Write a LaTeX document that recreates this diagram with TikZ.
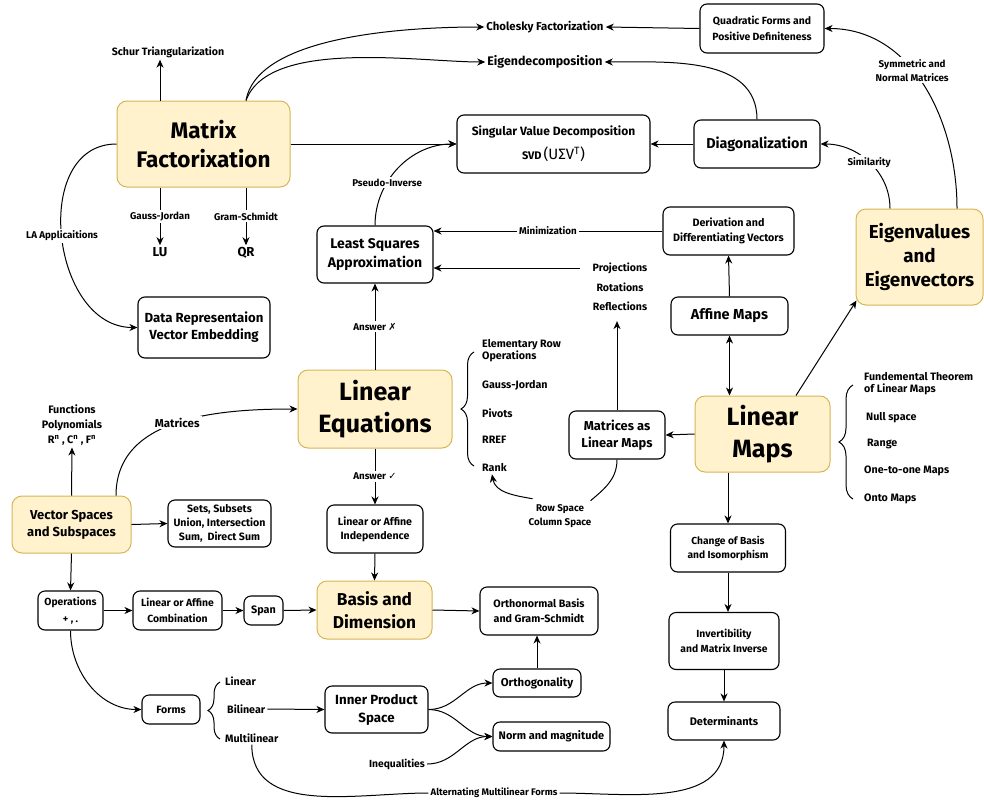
\documentclass[tikz,border=0pt]{standalone}
\usepackage{fontspec}
\setmainfont{Fira Sans}
\newfontfamily\symbfont{DejaVu Sans}
\usepackage{tikz}
\usetikzlibrary{arrows.meta, positioning, calc, decorations.pathreplacing}
\definecolor{KeyFill}{HTML}{FFF2CC}
\definecolor{KeyBorder}{HTML}{D6B656}
\tikzset{
  % Key concept (yellow)
  keybox/.style={
    rectangle, draw=KeyBorder, fill=KeyFill, line width=1pt,
    rounded corners=10pt, align=center, inner sep=2pt
  },
  % Plain topic box
  topic/.style={
    rectangle, draw=black, fill=white, line width=1.1pt,
    rounded corners=7pt, align=center, inner sep=2pt
  },
  % Free text
  plain/.style={align=center, inner sep=2pt},
  % Label sitting on a connector
  lbl/.style={
    fill=white, inner sep=2pt, align=center,
    font=\fontsize{9.8}{14}\selectfont\bfseries
  },
  % Connectors
  arrow/.style={-{Stealth[length=8pt,width=7pt,inset=2.5pt]}, line width=1pt},
  link/.style={line width=1pt},
  curly/.style={line width=1pt, decorate, decoration={brace, amplitude=#1}}
}
\begin{document}
\begin{tikzpicture}[x=1pt, y=-1pt]
\useasboundingbox (0,0) rectangle (984,800);

% Key concepts
\node[keybox, minimum width=173pt, minimum height=86pt,
      font=\fontsize{22.5}{29}\selectfont\bfseries] (mf) at (203.5,144)
  {Matrix\\Factorixation};
\node[keybox, minimum width=154pt, minimum height=78pt,
      font=\fontsize{25}{32}\selectfont\bfseries] (le) at (375,409)
  {Linear\\Equations};
\node[keybox, minimum width=135pt, minimum height=76pt,
      font=\fontsize{25}{32}\selectfont\bfseries] (lm) at (762.5,434)
  {Linear\\Maps};
\node[keybox, minimum width=127pt, minimum height=96pt,
      font=\fontsize{18.8}{24}\selectfont\bfseries] (eig) at (919.5,257)
  {Eigenvalues\\and\\Eigenvectors};
\node[keybox, minimum width=115pt, minimum height=58pt,
      font=\fontsize{17.2}{23}\selectfont\bfseries] (bd) at (374.5,610)
  {Basis and\\Dimension};
\node[keybox, minimum width=119pt, minimum height=57pt,
      font=\fontsize{13}{17}\selectfont\bfseries] (vs) at (71.5,524.5)
  {Vector Spaces\\and Subspaces};

% Topic boxes
\node[topic, minimum width=193pt, minimum height=58pt,
      font=\fontsize{12}{24}\selectfont\bfseries] (svd) at (553.5,144)
  {Singular Value Decomposition\\{\fontsize{11}{24}\selectfont SVD}\,{\mdseries\fontsize{15}{24}\selectfont(UΣV\textsuperscript{T})}};
\node[topic, minimum width=124pt, minimum height=49pt,
      font=\fontsize{10.4}{16}\selectfont\bfseries] (quad) at (762,28.5)
  {Quadratic Forms and\\Positive Definiteness};
\node[topic, minimum width=126pt, minimum height=48pt,
      font=\fontsize{14.3}{16}\selectfont\bfseries] (diag) at (757,144)
  {Diagonalization};
\node[topic, minimum width=131pt, minimum height=48pt,
      font=\fontsize{10.7}{15}\selectfont\bfseries] (deriv) at (728.5,231)
  {Derivation and\\Differentiating Vectors};
\node[topic, minimum width=116pt, minimum height=57pt,
      font=\fontsize{14}{19}\selectfont\bfseries] (ls) at (375,254.5)
  {Least Squares\\Approximation};
\node[topic, minimum width=117pt, minimum height=38pt,
      font=\fontsize{14.5}{16}\selectfont\bfseries] (aff) at (729.5,316)
  {Affine Maps};
\node[topic, minimum width=96pt, minimum height=48pt,
      font=\fontsize{12.9}{17}\selectfont\bfseries] (mlm) at (617,435)
  {Matrices as\\Linear Maps};
\node[topic, minimum width=96pt, minimum height=48pt,
      font=\fontsize{10.6}{14}\selectfont\bfseries] (lai) at (375,529)
  {Linear or Affine\\Independence};
\node[topic, minimum width=118pt, minimum height=48pt,
      font=\fontsize{10.7}{15}\selectfont\bfseries] (ob) at (539,611)
  {Orthonormal Basis\\and Gram-Schmidt};
\node[topic, minimum width=88pt, minimum height=28pt,
      font=\fontsize{11.4}{14}\selectfont\bfseries] (orth) at (537,683)
  {Orthogonality};
\node[topic, minimum width=117pt, minimum height=29pt,
      font=\fontsize{11}{14}\selectfont\bfseries] (norm) at (551.5,736.5)
  {Norm and magnitude};
\node[topic, minimum width=103pt, minimum height=47pt,
      font=\fontsize{13.3}{18}\selectfont\bfseries] (ips) at (376.5,709.5)
  {Inner Product\\Space};
\node[topic, minimum width=112pt, minimum height=38pt,
      font=\fontsize{11}{14}\selectfont\bfseries] (det) at (724,721)
  {Determinants};
\node[topic, minimum width=110pt, minimum height=57pt,
      font=\fontsize{10.3}{15}\selectfont\bfseries] (inv) at (724,641)
  {Invertibility\\and Matrix Inverse};
\node[topic, minimum width=115pt, minimum height=48pt,
      font=\fontsize{10.2}{14}\selectfont\bfseries] (cob) at (728,548)
  {Change of Basis\\and Isomorphism};
\node[topic, minimum width=132pt, minimum height=61pt,
      font=\fontsize{13.2}{17}\selectfont\bfseries] (datarep) at (204,327.5)
  {Data Representaion\\Vector Embedding};
\node[topic, minimum width=103pt, minimum height=47pt,
      font=\fontsize{10.6}{14}\selectfont\bfseries] (sets) at (219.5,523.5)
  {Sets, Subsets\\Union, Intersection\\Sum,~ Direct Sum};
\node[topic, minimum width=65pt, minimum height=39pt,
      font=\fontsize{10.3}{17}\selectfont\bfseries] (ops) at (70.5,610.5)
  {Operations\\+ , .};
\node[topic, minimum width=89pt, minimum height=39pt,
      font=\fontsize{10.4}{16}\selectfont\bfseries] (lac) at (177.5,610.5)
  {Linear or Affine\\Combination};
\node[topic, minimum width=39pt, minimum height=29pt,
      font=\fontsize{10.8}{14}\selectfont\bfseries] (span) at (263.5,610.5)
  {Span};
\node[topic, minimum width=58pt, minimum height=29pt,
      font=\fontsize{10.6}{14}\selectfont\bfseries] (forms) at (171,709.5)
  {Forms};

% Free text
\node[plain, font=\fontsize{10.6}{12}\selectfont\bfseries] (schur) at (168,52) {Schur Triangularization};
\node[plain, font=\fontsize{11.4}{12}\selectfont\bfseries] (chol) at (545,27) {Cholesky Factorization};
\node[plain, font=\fontsize{12.4}{12}\selectfont\bfseries] (eigdec) at (545,62) {Eigendecomposition};
\node[plain, font=\fontsize{13}{14}\selectfont\bfseries] (lu) at (160,252) {LU};
\node[plain, font=\fontsize{13}{14}\selectfont\bfseries] (qr) at (246,253) {QR};
\node[plain, font=\fontsize{10.6}{19.5}\selectfont\bfseries] (proj) at (620,287)
  {Projections\\Rotations\\Reflections};
\node[plain, font=\fontsize{10.8}{15}\selectfont\bfseries] (funcs) at (72,425)
  {Functions\\Polynomials\\R\textsuperscript{n} , C\textsuperscript{n} , F\textsuperscript{n}};
\node[plain, font=\fontsize{9.8}{14}\selectfont\bfseries] (rowcol) at (560,516.5)
  {Row Space\\Column Space};
\node[plain, font=\fontsize{10.3}{12}\selectfont\bfseries] (ineq) at (397,764) {Inequalities};
\node[plain, font=\fontsize{9.5}{12}\selectfont\bfseries] (altf) at (494,793) {Alternating Multilinear Forms};

% Items of Linear Equations
\begin{scope}[every node/.style={plain, anchor=west, align=left,
    font=\fontsize{10.7}{12}\selectfont\bfseries}]
  \node (ero)  at (480,351) {Elementary Row\\Operations};
  \node (gj)   at (480,385) {Gauss-Jordan};
  \node (piv)  at (480,413) {Pivots};
  \node (rref) at (480,440) {RREF};
  \node (rank) at (480,468) {Rank};
  % Items of Linear Maps
  \node (ftlm)  at (862,384) {Fundemental Theorem\\of Linear Maps};
  \node (nulls) at (864,418) {Null space};
  \node (rng)   at (865,444) {Range};
  \node (inj)   at (862,471) {One-to-one Maps};
  \node (onto)  at (862,499) {Onto Maps};
  % Kinds of forms
  \node (lin)   at (223,681) {Linear};
  \node (bil)   at (225,709) {Bilinear};
  \node (multi) at (223,738) {Multilinear};
\end{scope}

% Braces
\draw[curly=13pt] (474,466) -- (474,352);
\draw[curly=14pt] (853,499) -- (853,385);
\draw[curly=12pt] (220,739) -- (220,682);

% Matrix factorization
\draw[arrow] (mf.north -| lu) -- (lu |- schur.south);
\draw[arrow] (mf.south -| lu) -- node[lbl]{Gauss-Jordan} (lu.north);
\draw[arrow] (mf.south -| qr) -- node[lbl]{Gram-Schmidt} (qr.north);
\draw[arrow] (mf.north -| qr) to[out=80, in=180, looseness=0.7] (chol.west);
\draw[arrow] (mf.north -| qr) to[out=70, in=180, looseness=0.7] (eigdec.west);
\draw[arrow] (mf.east) -- (svd.west);
\draw[arrow] (mf.west) to[out=180, in=180, looseness=1.2]
  node[lbl]{LA Applicaitions} (datarep.west);

% Top right
\draw[arrow] (quad.west) -- (chol.east);
\draw[arrow] (diag.north) to[out=90, in=0] (eigdec.east);
\draw[arrow] (diag.west) -- (svd.east);
\draw[arrow] ($(eig.north)+(-29.5,0)$) to[out=90, in=0]
  node[lbl]{Similarity} (diag.east);
\draw[arrow] ($(eig.north)+(37.5,0)$) to[out=90, in=0]
  node[lbl, pos=0.58]{Symmetric and\\Normal Matrices} (quad.east);
\draw[arrow] (ls.north) to[out=90, in=180]
  node[lbl, pos=0.35]{Pseudo-Inverse} (svd.west);
\draw[arrow] (deriv.west) -- node[lbl]{Minimization} (deriv.west -| ls.east);
\coordinate (projin) at (580,268);
\draw[arrow] (projin) -- (projin -| ls.east);

% Linear maps
\draw[arrow] (aff.north) -- (deriv.south);
\draw[{Stealth[length=8pt,width=7pt,inset=2.5pt]}-{Stealth[length=8pt,width=7pt,inset=2.5pt]}, line width=1pt]
  (aff.south) -- (aff.south |- lm.north);
\draw[arrow] ($(lm.north)+(33.5,0)$) -- ($(eig.south west)+(1,-5)$);
\draw[arrow] (lm.west) -- (mlm.east);
\draw[arrow] (mlm.north) -- ([yshift=-8pt]proj.south -| mlm.north);
\draw[link] (mlm.south) to[out=-90, in=40] ($(rowcol.north east)+(-3,-2)$);
\draw[arrow] ($(rowcol.north west)+(6,-4)$) to[out=170, in=-80] ($(rank.south west)+(12,0)$);
\draw[arrow] (cob.north |- lm.south) -- (cob.north);
\draw[arrow] (cob.south) -- (cob.south |- inv.north);
\draw[arrow] (inv.south) -- (det.north);

% Linear equations
\draw[arrow] (le.north) -- node[lbl]{Answer {\symbfont\mdseries ✗}} (ls.south);
\draw[arrow] (le.south) -- node[lbl]{Answer {\symbfont\mdseries ✓}} (lai.north);
\draw[arrow] (lai.south) -- (bd.north);
\draw[arrow] (bd.east) -- (ob.west);
\draw[arrow] (orth.north) -- (orth.north |- ob.south);

% Vector spaces
\draw[arrow] (vs.north) -- (funcs.south);
\draw[arrow] ($(vs.north)+(44.5,0)$) to[out=90, in=180]
  node[lbl, font=\fontsize{11.5}{12}\selectfont\bfseries]{Matrices} (le.west);
\draw[arrow] (vs.east) -- (sets.west);
\draw[arrow] (vs.south) -- (ops.north);
\draw[arrow] (ops.east) -- (lac.west);
\draw[arrow] (lac.east) -- (span.west);
\draw[arrow] (span.east) -- (bd.west);
\draw[arrow] (ops.south) to[out=-90, in=180] (forms.west);

% Forms and inner products
\draw[arrow] (bil.east) -- (ips.west);
\draw[arrow] (ips.east) to[out=0, in=180] (orth.west);
\draw[arrow] (ips.east) to[out=0, in=180] (norm.west);
\draw[arrow] (ineq.east) to[out=0, in=180] (norm.west);
\draw[link] (multi.south) to[out=-90, in=180] (altf.west);
\draw[arrow] (altf.east) to[out=0, in=-90] (det.south);

\end{tikzpicture}
\end{document}
